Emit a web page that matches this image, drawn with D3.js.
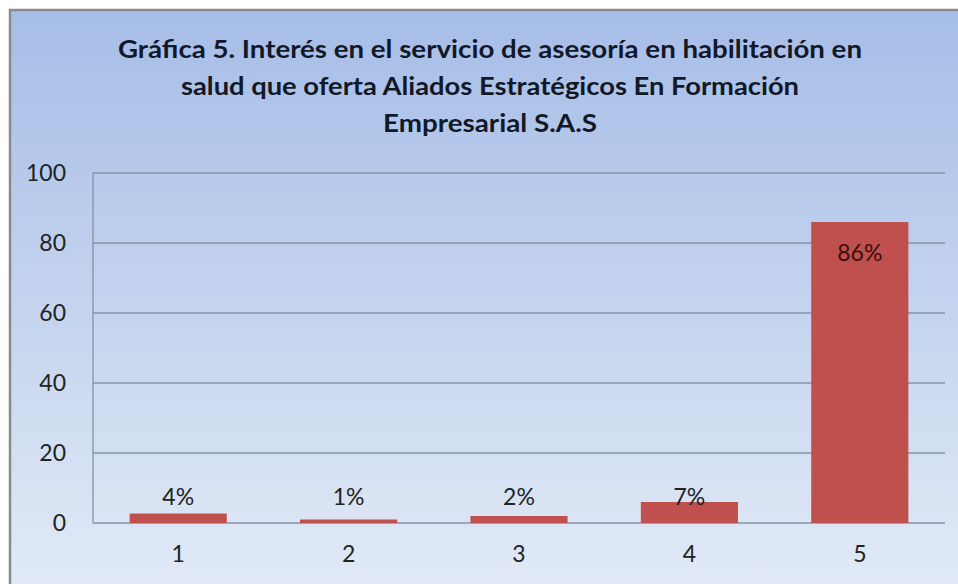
<!DOCTYPE html>
<html><head><meta charset="utf-8">
<script src="https://cdn.jsdelivr.net/npm/d3@7"></script>
<style>html,body{margin:0;padding:0;background:#fff;overflow:hidden}</style>
</head><body>
<script>
const categories = ["1","2","3","4","5"];
const values = [2.7, 1, 2, 6, 86];
const labels = ["4%","1%","2%","7%","86%"];
const yTicks = [0,20,40,60,80,100];
const titleLines = ["Gráfica 5. Interés en el servicio de asesoría en habilitación en","salud que oferta Aliados Estratégicos En Formación","Empresarial S.A.S"];

const W=958,H=584;
const svg=d3.select("body").append("svg").attr("width",W).attr("height",H);
const defs=svg.append("defs");
const g=defs.append("linearGradient").attr("id","bg").attr("x1",0).attr("y1",0).attr("x2",0).attr("y2",1);
g.append("stop").attr("offset","0%").attr("stop-color","#a6bde7");
g.append("stop").attr("offset","100%").attr("stop-color","#e2eaf6");
svg.append("rect").attr("x",10).attr("y",10).attr("width",W).attr("height",H).attr("fill","url(#bg)").attr("stroke","#8a8a8a").attr("stroke-width",2.5);

const font="Lato, 'Open Sans', sans-serif";
const titleWidths=[744,618,214];
const tt=svg.append("g");
titleLines.forEach((t,i)=>{
  tt.append("text").attr("x",490).attr("y",58+i*37).attr("text-anchor","middle")
    .attr("font-family",font).attr("font-weight","bold").attr("font-size",25).attr("fill","#111827")
    .attr("textLength",titleWidths[i]).attr("lengthAdjust","spacingAndGlyphs").text(t);
});

const m={l:93,r:945,t:173,b:523};
const x=d3.scaleBand().domain(categories).range([m.l,m.r]).paddingInner(0.43).paddingOuter(0.215);
const y=d3.scaleLinear().domain([0,100]).range([m.b,m.t]);

const grid=svg.append("g");
grid.selectAll("line").data(yTicks).join("line")
  .attr("x1",m.l).attr("x2",m.r).attr("y1",d=>y(d)).attr("y2",d=>y(d))
  .attr("stroke","#8593a6").attr("stroke-width",1.3);
svg.append("line").attr("x1",m.l).attr("x2",m.l).attr("y1",m.t).attr("y2",m.b).attr("stroke","#8593a6").attr("stroke-width",1.3);

const yAxis=svg.append("g").attr("transform",`translate(${m.l},0)`).call(d3.axisLeft(y).tickValues(yTicks).tickSize(0).tickPadding(27));
yAxis.select(".domain").remove();
yAxis.selectAll("text").attr("font-family",font).attr("font-size",23).attr("fill","#222");

const xAxis=svg.append("g").attr("transform",`translate(0,${m.b})`).call(d3.axisBottom(x).tickSize(0).tickPadding(23));
xAxis.select(".domain").remove();
xAxis.selectAll("text").attr("font-family",font).attr("font-size",23).attr("fill","#222");

svg.append("g").selectAll("rect").data(values).join("rect")
  .attr("x",(d,i)=>x(categories[i])).attr("width",x.bandwidth())
  .attr("y",d=>y(d)).attr("height",d=>y(0)-y(d)).attr("fill","#c0504d");

svg.append("g").selectAll("text").data(values).join("text")
  .attr("x",(d,i)=>x(categories[i])+x.bandwidth()/2)
  .attr("y",d=>d>50? y(d)+39 : y(0)-18)
  .attr("text-anchor","middle").attr("font-family",font).attr("font-size",23)
  .attr("fill",d=>d>50?"#3a0e0e":"#222").text((d,i)=>labels[i]);
</script>
</body></html>
